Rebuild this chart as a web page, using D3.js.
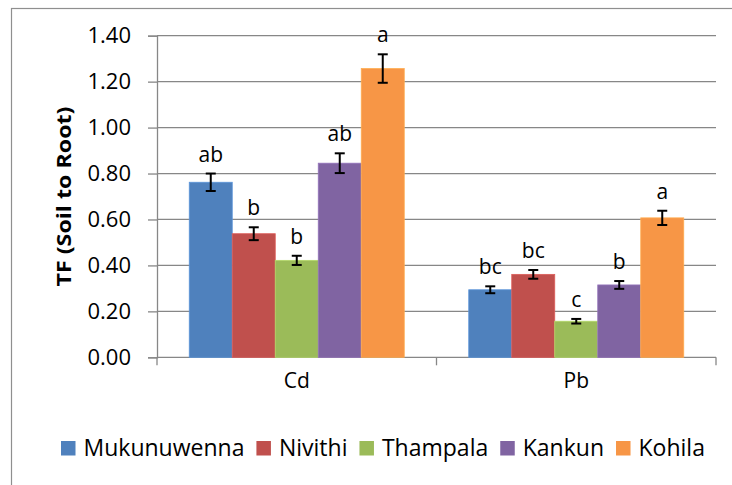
<!DOCTYPE html>
<html><head><meta charset="utf-8">
<script src="https://cdn.jsdelivr.net/npm/d3@7"></script>
<style>body{margin:0;background:#fff}svg{display:block}text{font-family:"Open Sans",sans-serif;fill:#000}</style>
</head><body><svg id="c" width="732" height="485"></svg>
<script>
const categories = ["Cd", "Pb"];
const seriesNames = ["Mukunuwenna", "Nivithi", "Thampala", "Kankun", "Kohila"];
const colors = ["#4F81BD", "#C0504D", "#9BBB59", "#8064A2", "#F79646"];
const cdValues = [0.762, 0.538, 0.422, 0.845, 1.257];
const pbValues = [0.294, 0.361, 0.157, 0.315, 0.607];
const cdErrors = [0.038, 0.028, 0.020, 0.043, 0.062];
const pbErrors = [0.015, 0.019, 0.010, 0.017, 0.031];
const cdLetters = ["ab", "b", "b", "ab", "a"];
const pbLetters = ["bc", "bc", "c", "b", "a"];
const yTicks = [0, 0.2, 0.4, 0.6, 0.8, 1.0, 1.2, 1.4];
const yTitle = "TF (Soil to Root)";

const values = [cdValues, pbValues], errors = [cdErrors, pbErrors], letters = [cdLetters, pbLetters];
const svg = d3.select("#c");
const L = 157, R = 716, T = 35.7, B = 357.3;
const grid = "#878787";

svg.append("rect").attr("x", 11.5).attr("y", 8.5).attr("width", 760).attr("height", 520)
  .attr("fill", "none").attr("stroke", "#8f8f8f").attr("stroke-width", 1.2);

const y = d3.scaleLinear().domain([0, 1.4]).range([B, T]);
const x0 = d3.scaleBand().domain(categories).range([L, R]).paddingInner(0).paddingOuter(0);
const x1 = d3.scaleBand().domain(seriesNames).range([0, x0.bandwidth()]).paddingOuter(0.75).paddingInner(0);

// gridlines
svg.append("g").selectAll("line").data(yTicks.slice(1)).join("line")
  .attr("x1", L).attr("x2", R).attr("y1", d => y(d)).attr("y2", d => y(d))
  .attr("stroke", grid).attr("stroke-width", 1.3);

// y axis
const ya = svg.append("g").attr("transform", `translate(${L},0)`)
  .call(d3.axisLeft(y).tickValues(yTicks).tickFormat(d3.format(".2f")).tickSize(9).tickPadding(17));
ya.select(".domain").attr("stroke", grid).attr("stroke-width", 1.3);
ya.selectAll(".tick line").attr("stroke", grid).attr("stroke-width", 1.3);
ya.selectAll(".tick text").attr("font-size", 22).attr("font-family", "Open Sans").attr("fill", "#000");

// x axis
const xa = svg.append("g").attr("transform", `translate(0,${B})`)
  .call(d3.axisBottom(x0).tickSize(0).tickPadding(16));
xa.select(".domain").remove();
xa.selectAll(".tick text").attr("font-size", 21).attr("font-family", "Open Sans").attr("fill", "#000");
svg.append("line").attr("x1", L).attr("x2", R).attr("y1", B).attr("y2", B).attr("stroke", grid).attr("stroke-width", 1.3);
const bounds = [L, ...categories.map(c => x0(c) + x0.bandwidth())];
svg.append("g").selectAll("line").data(bounds).join("line")
  .attr("x1", d => d).attr("x2", d => d).attr("y1", B).attr("y2", B + 8)
  .attr("stroke", grid).attr("stroke-width", 1.3);

// bars
categories.forEach((c, ci) => {
  const g = svg.append("g").attr("transform", `translate(${x0(c)},0)`);
  seriesNames.forEach((s, si) => {
    const v = values[ci][si], e = errors[ci][si];
    const bx = x1(s), bw = x1.bandwidth(), cx = bx + bw / 2;
    g.append("rect").attr("x", bx).attr("y", y(v)).attr("width", bw).attr("height", y(0) - y(v))
      .attr("fill", colors[si]).attr("stroke", d3.color(colors[si]).brighter(0.4)).attr("stroke-width", 0.8);
    g.append("line").attr("x1", cx).attr("x2", cx).attr("y1", y(v + e)).attr("y2", y(v - e))
      .attr("stroke", "#000").attr("stroke-width", 2);
    [v + e, v - e].forEach(t => g.append("line").attr("x1", cx - 5).attr("x2", cx + 5)
      .attr("y1", y(t)).attr("y2", y(t)).attr("stroke", "#000").attr("stroke-width", 2));
    g.append("text").attr("x", cx).attr("y", y(v + e) - 12).attr("text-anchor", "middle")
      .attr("font-size", 21).text(letters[ci][si]);
  });
});

// y title
svg.append("text").attr("transform", `translate(71,${(T + B) / 2}) rotate(-90)`)
  .attr("text-anchor", "middle").attr("font-size", 20).attr("font-weight", "bold")
  .attr("textLength", 180).attr("lengthAdjust", "spacingAndGlyphs").text(yTitle);

// legend
const lg = svg.append("g");
let lx = 61;
seriesNames.forEach((s, i) => {
  const item = lg.append("g").attr("transform", `translate(${lx},0)`);
  item.append("rect").attr("x", 0).attr("y", 441).attr("width", 14.5).attr("height", 14.5).attr("fill", colors[i]);
  const t = item.append("text").attr("x", 22.5).attr("y", 456).attr("font-size", 23).text(s);
  lx += 22.5 + t.node().getComputedTextLength() + 12;
});
</script></body></html>
